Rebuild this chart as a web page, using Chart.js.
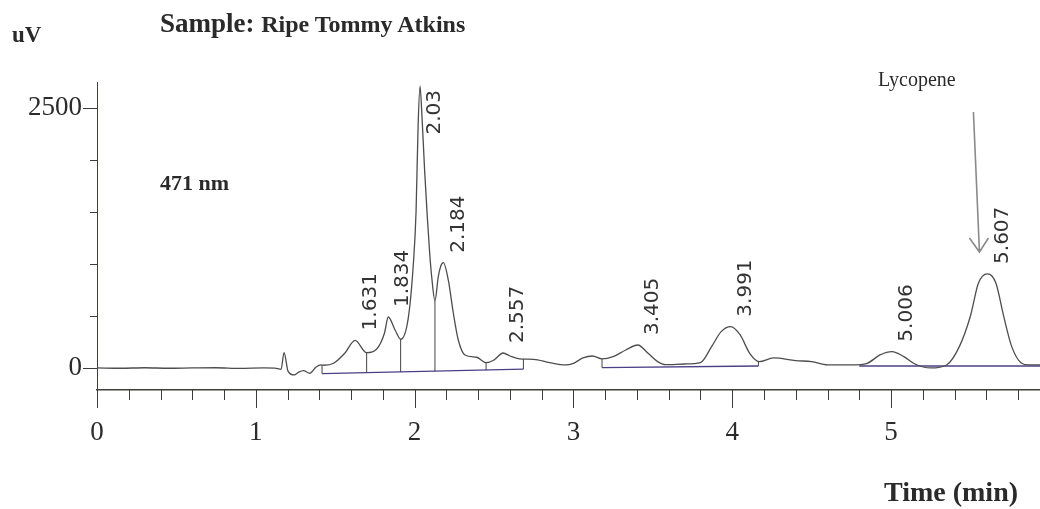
<!DOCTYPE html>
<html>
<head>
<meta charset="utf-8">
<title>Ripe Tommy Atkins - 471 nm</title>
<script src="https://cdn.jsdelivr.net/npm/chart.js@4.4.1/dist/chart.umd.min.js"></script>
<style>
  html, body { margin: 0; padding: 0; background: #fff; }
  #wrap { position: relative; width: 1040px; height: 509px; overflow: hidden; }
  #wrap canvas { position: absolute; left: 0; top: 0; }
  .lbl {
    position: absolute;
    font-family: 'Liberation Serif', 'Times New Roman', serif;
    color: #2a2a2a;
    line-height: 1;
    white-space: nowrap;
  }
</style>
</head>
<body>
<div id="wrap">
  <canvas id="chromChart" width="1040" height="509"></canvas>
  <div class="lbl" style="left:12px;top:23px;font-size:23px;font-weight:bold">uV</div>
  <div class="lbl" style="left:160px;top:10px;font-size:27px;font-weight:bold">Sample: <span style="font-size:24px">Ripe Tommy Atkins</span></div>
  <div class="lbl" style="left:160px;top:172px;font-size:22px;font-weight:bold">471 nm</div>
  <div class="lbl" style="left:878px;top:69px;font-size:20px">Lycopene</div>
  <div class="lbl" style="left:884px;top:478px;font-size:28px;font-weight:bold">Time (min)</div>
</div>
<script>
  'use strict';

  // detector trace (min, uV)
  var traceTimes = [
    0.00, 0.15, 0.30, 0.45, 0.60, 0.75, 0.90, 1.05, 1.12, 1.159,
    1.178, 1.203, 1.241, 1.27, 1.30, 1.34, 1.38, 1.41, 1.43, 1.49,
    1.56, 1.625, 1.698, 1.76, 1.81, 1.834, 1.877, 1.912, 1.96, 1.992,
    2.009, 2.022, 2.034, 2.047, 2.063, 2.080, 2.095, 2.108, 2.128, 2.149,
    2.165, 2.181, 2.212, 2.244, 2.275, 2.317, 2.391, 2.45, 2.50, 2.557,
    2.60, 2.66, 2.75, 2.85, 2.95, 3.00, 3.06, 3.12, 3.18, 3.25,
    3.33, 3.405, 3.47, 3.53, 3.58, 3.70, 3.80, 3.87, 3.93, 3.991,
    4.05, 4.11, 4.17, 4.26, 4.40, 4.50, 4.60, 4.75, 4.85, 4.93,
    5.006, 5.08, 5.15, 5.25, 5.35, 5.43, 5.50, 5.55, 5.607, 5.66,
    5.71, 5.76, 5.82, 5.87, 5.94
  ];
  var traceValues = [
    0, -3, 2, -3, 0, 2, -4, 0, -2, -13,
    147, -30, -67, -40, -26, -51, 10, 29, 26, 45,
    141, 265, 147, 180, 334, 490, 365, 276, 480, 1000,
    1500, 2330, 2711, 2400, 1900, 1450, 1100, 870, 646, 878,
    980, 1012, 846, 526, 269, 125, 103, 51, 77, 144,
    115, 87, 83, 51, 29, 45, 96, 115, 87, 109,
    173, 221, 141, 61, 32, 38, 51, 205, 349, 397,
    317, 141, 61, 96, 70, 61, 29, 29, 45, 125,
    157, 109, 38, 0, 29, 205, 500, 814, 904, 817,
    493, 205, 48, 29, 29
  ];

  // integrated peaks
  var peakTimes = [1.631, 1.834, 2.034, 2.184, 2.557, 3.405, 3.991, 5.006, 5.607];
  var peakHeights = [265, 490, 2711, 1012, 144, 221, 397, 157, 904];
  var peakLabels = ['1.631', '1.834', '2.03', '2.184', '2.557', '3.405', '3.991', '5.006', '5.607'];
  var lycopenePeak = 8;

  // integration baselines and drop lines
  var baseStartTimes = [1.417, 3.18, 4.80];
  var baseStartValues = [-55, 3, 19];
  var baseEndTimes = [2.685, 4.165, 5.94];
  var baseEndValues = [-12, 19, 19];
  var dropTimes = [1.417, 1.698, 1.912, 2.128, 2.45, 2.685, 3.18, 4.165];
  var dropBottoms = [-55, -47, -40, -33, -22, -12, 3, 19];
  var dropTops = [29, 147, 276, 646, 51, 87, 87, 61];

  // axes
  var xLabelTicks = [0, 1, 2, 3, 4, 5];
  var yLabelTicks = [0, 2500];
  var xMax = 5.938;
  var yMin = -212;
  var yMax = 2750;

  var datasets = [{
    data: traceTimes.map(function (t, i) { return { x: t, y: traceValues[i] }; }),
    borderColor: '#4d4d4d',
    borderWidth: 1.3,
    pointRadius: 0,
    showLine: true,
    cubicInterpolationMode: 'monotone'
  }];

  baseStartTimes.forEach(function (t, i) {
    datasets.push({
      data: [{ x: t, y: baseStartValues[i] }, { x: baseEndTimes[i], y: baseEndValues[i] }],
      borderColor: '#4b3f86',
      borderWidth: 1.3,
      pointRadius: 0,
      showLine: true
    });
  });

  dropTimes.forEach(function (t, i) {
    datasets.push({
      data: [{ x: t, y: dropBottoms[i] }, { x: t, y: dropTops[i] }],
      borderColor: '#444',
      borderWidth: 1,
      pointRadius: 0,
      showLine: true
    });
  });

  // tick marks: minor every 0.2 min / 500 uV, long ones under the labels
  var tickMarks = {
    id: 'tickMarks',
    afterDraw: function (chart) {
      var c = chart.ctx;
      var xs = chart.scales.x;
      var ys = chart.scales.y;
      var bottom = chart.chartArea.bottom;
      var left = chart.chartArea.left;
      c.save();
      c.strokeStyle = '#3c3c3c';
      c.lineWidth = 1;
      c.beginPath();
      for (var i = 0; i * 0.2 <= xMax; i++) {
        var px = Math.round(xs.getPixelForValue(i * 0.2)) + 0.5;
        var len = (i % 5 === 0) ? 18 : 10;
        c.moveTo(px, bottom);
        c.lineTo(px, bottom + len);
      }
      for (var v = 0; v <= 2500; v += 500) {
        var py = Math.round(ys.getPixelForValue(v)) + 0.5;
        var l2 = yLabelTicks.indexOf(v) >= 0 ? 14 : 7;
        c.moveTo(left - l2, py);
        c.lineTo(left, py);
      }
      c.stroke();
      c.restore();
    }
  };

  // retention time labels and the lycopene arrow
  var peakNotes = {
    id: 'peakNotes',
    afterDatasetsDraw: function (chart) {
      var c = chart.ctx;
      var xs = chart.scales.x;
      var ys = chart.scales.y;
      c.save();
      c.font = '20px "DejaVu Sans", sans-serif';
      c.fillStyle = '#333';
      c.textAlign = 'left';
      c.textBaseline = 'middle';
      peakTimes.forEach(function (t, i) {
        var px = xs.getPixelForValue(t) + 15;
        var py = ys.getPixelForValue(peakHeights[i]) - 10;
        var w = c.measureText(peakLabels[i]).width;
        var minBottom = chart.chartArea.top + w + 8;
        if (py < minBottom) {
          py = minBottom;
        }
        c.save();
        c.translate(px, py);
        c.rotate(-Math.PI / 2);
        c.fillText(peakLabels[i], 0, 0);
        c.restore();
      });

      var ax = xs.getPixelForValue(peakTimes[lycopenePeak]);
      var ay = ys.getPixelForValue(peakHeights[lycopenePeak]);
      var tipX = ax - 8;
      var tipY = ay - 22;
      c.strokeStyle = '#8a8a8a';
      c.lineWidth = 1.6;
      c.beginPath();
      c.moveTo(tipX - 6, tipY - 140);
      c.lineTo(tipX, tipY);
      c.moveTo(tipX - 10, tipY - 14);
      c.lineTo(tipX, tipY);
      c.lineTo(tipX + 9, tipY - 14);
      c.stroke();
      c.restore();
    }
  };

  new Chart(document.getElementById('chromChart'), {
    type: 'scatter',
    data: { datasets: datasets },
    plugins: [tickMarks, peakNotes],
    options: {
      responsive: false,
      animation: false,
      layout: { padding: { top: 82, right: 0, bottom: 0, left: 0 } },
      plugins: {
        legend: { display: false },
        tooltip: { enabled: false }
      },
      scales: {
        x: {
          type: 'linear',
          min: 0,
          max: xMax,
          afterBuildTicks: function (scale) {
            scale.ticks = xLabelTicks.map(function (v) { return { value: v }; });
          },
          afterFit: function (scale) { scale.height = 119; },
          grid: { display: false, drawTicks: false },
          border: { display: true, color: '#3f3f3a', width: 1.5 },
          ticks: {
            autoSkip: false,
            maxRotation: 0,
            padding: 27,
            color: '#2b2b2b',
            font: { family: 'Liberation Serif', size: 27 },
            callback: function (value) { return String(value); }
          }
        },
        y: {
          type: 'linear',
          min: yMin,
          max: yMax,
          afterBuildTicks: function (scale) {
            scale.ticks = yLabelTicks.map(function (v) { return { value: v }; });
          },
          afterFit: function (scale) { scale.width = 97; },
          grid: { display: false, drawTicks: false },
          border: { display: true, color: '#3f3f3a', width: 1 },
          ticks: {
            padding: 15,
            color: '#2b2b2b',
            font: { family: 'Liberation Serif', size: 27 },
            callback: function (value) { return String(value); }
          }
        }
      }
    }
  });
</script>
</body>
</html>
